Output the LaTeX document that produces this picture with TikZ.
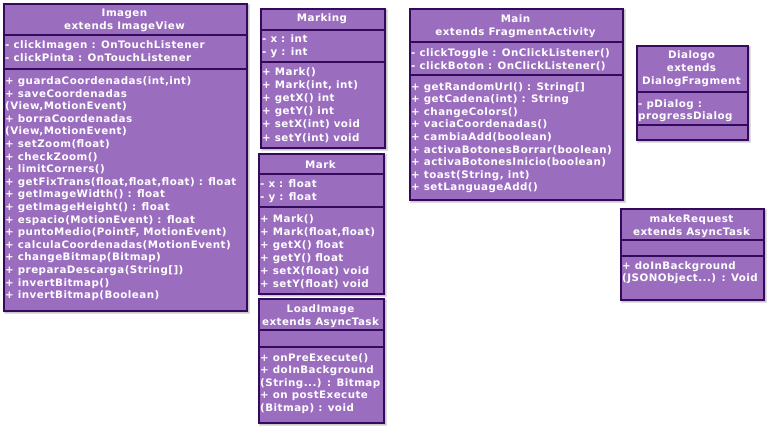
\documentclass[tikz,border=0pt]{standalone}
\usepackage{fontspec}
\setmainfont{DejaVu Sans}[LetterSpace=4.5]
\definecolor{umlfill}{RGB}{155,109,191}
\definecolor{umlline}{RGB}{52,10,92}
\definecolor{umlshadow}{RGB}{200,200,200}
\tikzset{
  umlbox/.style={draw=umlline, line width=1.5pt, fill=umlfill, anchor=north west, inner sep=0pt},
  umlsep/.style={draw=umlline, line width=1.5pt},
  umlhead/.style={text=white, font=\bfseries\fontsize{10.3}{13}\selectfont, align=center, inner sep=0pt},
  umltext/.style={text=white, font=\bfseries\fontsize{10.3}{12.6}\selectfont, align=left, anchor=north west, inner sep=0pt},
}
\newcommand\umlshadow[4]{%
  \fill[umlshadow!60] (#1+1,#2+1) rectangle (#3+4,#4+4);
  \fill[umlshadow] (#1+2,#2+2) rectangle (#3+3,#4+3);
}
\begin{document}
\begin{tikzpicture}[x=1pt,y=-1pt]
\useasboundingbox (0,0) rectangle (770,426);
\fill[white] (0,0) rectangle (770,426);

% ---------- Imagen ----------
\umlshadow{3}{3}{246}{310}
\node[umlbox, minimum width=243pt, minimum height=307pt] (imagen) at (3,3) {};
\draw[umlsep] (3,35) -- (246,35);
\draw[umlsep] (3,69) -- (246,69);
\node[umlhead] (imagenH) at (124.5,20) {Imagen\\extends ImageView};
\node[umltext] (imagenA) at (5,40.5) {- clickImagen : OnTouchListener\\- clickPinta : OnTouchListener};
\node[umltext] (imagenM) at (5,76.5) {+ guardaCoordenadas(int,int)\\+ saveCoordenadas\\(View,MotionEvent)\\+ borraCoordenadas\\(View,MotionEvent)\\+ setZoom(float)\\+ checkZoom()\\+ limitCorners()\\+ getFixTrans(float,float,float) : float\\+ getImageWidth() : float\\+ getImageHeight() : float\\+ espacio(MotionEvent) : float\\+ puntoMedio(PointF, MotionEvent)\\+ calculaCoordenadas(MotionEvent)\\+ changeBitmap(Bitmap)\\+ preparaDescarga(String[])\\+ invertBitmap()\\+ invertBitmap(Boolean)};

% ---------- Marking ----------
\umlshadow{260}{8}{384}{147}
\node[umlbox, minimum width=124pt, minimum height=139pt] (marking) at (260,8) {};
\draw[umlsep] (260,30) -- (384,30);
\draw[umlsep] (260,62) -- (384,62);
\node[umlhead] (markingH) at (322,19) {Marking};
\node[umltext] (markingA) at (262,34.5) {- x : int\\- y : int};
\node[umltext, font=\bfseries\fontsize{10.3}{13.2}\selectfont] (markingM) at (262,67) {+ Mark()\\+ Mark(int, int)\\+ getX() int\\+ getY() int\\+ setX(int) void\\+ setY(int) void};

% ---------- Mark ----------
\umlshadow{258}{153}{383}{293}
\node[umlbox, minimum width=125pt, minimum height=140pt] (mark) at (258,153) {};
\draw[umlsep] (258,174) -- (383,174);
\draw[umlsep] (258,207) -- (383,207);
\node[umlhead] (markH) at (320.5,164.5) {Mark};
\node[umltext] (markA) at (260,179.5) {- x : float\\- y : float};
\node[umltext, font=\bfseries\fontsize{10.3}{13}\selectfont] (markM) at (260,214) {+ Mark()\\+ Mark(float,float)\\+ getX() float\\+ getY() float\\+ setX(float) void\\+ setY(float) void};

% ---------- LoadImage ----------
\umlshadow{258}{298}{383}{422}
\node[umlbox, minimum width=125pt, minimum height=124pt] (loadimage) at (258,298) {};
\draw[umlsep] (258,330) -- (383,330);
\draw[umlsep] (258,347) -- (383,347);
\node[umlhead] (loadimageH) at (320.5,316.5) {LoadImage\\extends AsyncTask};
\node[umltext, font=\bfseries\fontsize{10.3}{12.5}\selectfont] (loadimageM) at (260,353) {+ onPreExecute()\\+ doInBackground\\(String...) : Bitmap\\+ on postExecute\\(Bitmap) : void};

% ---------- Main ----------
\umlshadow{409}{8}{622}{199}
\node[umlbox, minimum width=213pt, minimum height=191pt] (main) at (409,8) {};
\draw[umlsep] (409,42) -- (622,42);
\draw[umlsep] (409,75) -- (622,75);
\node[umlhead] (mainH) at (515.5,26.5) {Main\\extends FragmentActivity};
\node[umltext] (mainA) at (411,48.5) {- clickToggle : OnClickListener()\\- clickBoton : OnClickListener()};
\node[umltext] (mainM) at (411,82) {+ getRandomUrl() : String[]\\+ getCadena(int) : String\\+ changeColors()\\+ vaciaCoordenadas()\\+ cambiaAdd(boolean)\\+ activaBotonesBorrar(boolean)\\+ activaBotonesInicio(boolean)\\+ toast(String, int)\\+ setLanguageAdd()};

% ---------- Dialogo ----------
\umlshadow{636}{45}{747}{139}
\node[umlbox, minimum width=111pt, minimum height=94pt] (dialogo) at (636,45) {};
\draw[umlsep] (636,92) -- (747,92);
\draw[umlsep] (636,125) -- (747,125);
\node[umlhead] (dialogoH) at (691.5,69) {Dialogo\\extends\\DialogFragment};
\node[umltext] (dialogoA) at (638,99) {- pDialog :\\progressDialog};

% ---------- makeRequest ----------
\umlshadow{620}{208}{763}{299}
\node[umlbox, minimum width=143pt, minimum height=91pt] (makerequest) at (620,208) {};
\draw[umlsep] (620,240) -- (763,240);
\draw[umlsep] (620,256) -- (763,256);
\node[umlhead] (makerequestH) at (691.5,226) {makeRequest\\extends AsyncTask};
\node[umltext] (makerequestM) at (622,261) {+ doInBackground\\(JSONObject...) : Void};
\end{tikzpicture}
\end{document}
